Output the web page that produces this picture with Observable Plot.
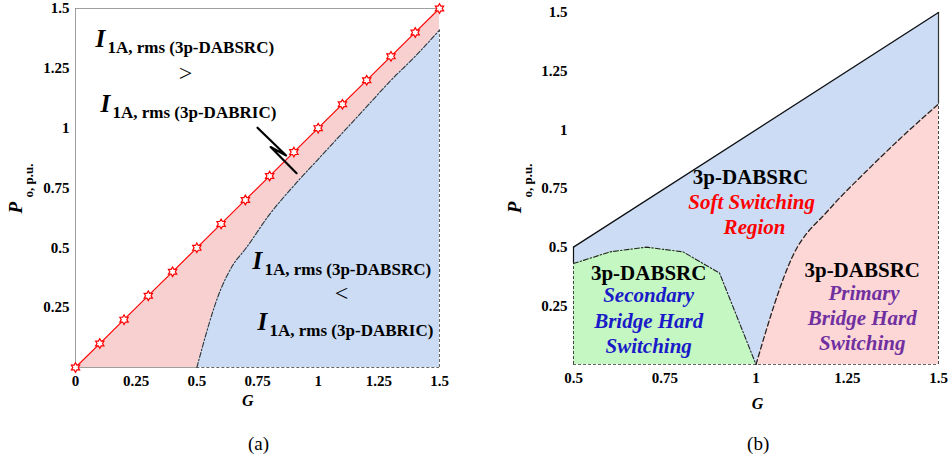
<!DOCTYPE html>
<html><head><meta charset="utf-8">
<script src="https://cdn.jsdelivr.net/npm/d3@7"></script>
<script src="https://cdn.jsdelivr.net/npm/@observablehq/plot@0.6"></script>
<style>
body{margin:0;background:#fff;}
#wrap{position:relative;width:950px;height:460px;overflow:hidden;background:#fff;}
#wrap svg{position:absolute;top:0;overflow:visible;}
</style></head><body><div id="wrap"></div>
<script>
// ---------- Panel (a) data ----------
const aLineG = [0,0.1,0.2,0.3,0.4,0.5,0.6,0.7,0.8,0.9,1.0,1.1,1.2,1.3,1.4,1.5];
const aLineP = [0,0.1,0.2,0.3,0.4,0.5,0.6,0.7,0.8,0.9,1.0,1.1,1.2,1.3,1.4,1.5];
const aBoundG = [0.5,0.6,0.65,0.7,0.8,0.9,1.0,1.1,1.2,1.3,1.4,1.5];
const aBoundP = [0,0.33,0.43,0.495,0.64,0.76,0.87,0.98,1.09,1.2,1.3,1.41];
const aTicksX = [0,0.25,0.5,0.75,1,1.25,1.5];
const ticksY = [0.25,0.5,0.75,1,1.25,1.5];
const aDomainX = [0,1.5];
const domainY = [0,1.5];
// annotations (a)
const aILabels = [
  {g:0.082, p:1.338, sub:"1A, rms (3p-DABSRC)"},
  {g:0.103, p:1.066, sub:"1A, rms (3p-DABRIC)"},
  {g:0.729, p:0.413, sub:"1A, rms (3p-DABSRC)"},
  {g:0.750, p:0.158, sub:"1A, rms (3p-DABRIC)"}
];
const aRelations = [{g:0.453, p:1.229, t:">"}, {g:1.096, p:0.308, t:"<"}];
const aArrowG = [0.75, 0.868, 0.804, 0.911];
const aArrowP = [1.002, 0.886, 0.921, 0.812];

// ---------- Panel (b) data ----------
const bTopG = [0.5,1.5];
const bTopP = [0.5,1.5];
const bSecG = [0.5,0.6,0.7,0.8,0.9,1.0];
const bSecP = [0.43,0.48,0.5,0.48,0.39,0];
const bPriG = [1.0,1.1,1.2,1.3,1.4,1.5];
const bPriP = [0,0.46,0.66,0.82,0.97,1.11];
const bTicksX = [0.5,0.75,1,1.25,1.5];
const bDomainX = [0.5,1.5];
// annotations (b)
const bHeads = [
  {g:0.985, p:0.771, t:"3p-DABSRC"},
  {g:0.706, p:0.359, t:"3p-DABSRC"},
  {g:1.291, p:0.371, t:"3p-DABSRC"}
];
const bSoft = [{g:0.988, p:0.662, t:"Soft Switching"}, {g:0.996, p:0.556, t:"Region"}];
const bSec = [{g:0.706, p:0.265, t:"Secondary"}, {g:0.706, p:0.155, t:"Bridge Hard"}, {g:0.706, p:0.048, t:"Switching"}];
const bPri = [{g:1.296, p:0.274, t:"Primary"}, {g:1.291, p:0.168, t:"Bridge Hard"}, {g:1.291, p:0.061, t:"Switching"}];

// ---------- helpers ----------
const zip = (G, P) => G.map((g, i) => ({g, p: P[i]}));
const font = "Liberation Serif, serif";
const fmt = d => String(d);
const blue = "#cbdcf4", pinkA = "#f8d0d0", pinkB = "#fdd6d6", green = "#c4f7c2";
const hexagram = {
  draw(ctx, size) {
    const R = Math.sqrt(size / Math.PI), r = R / Math.sqrt(3);
    for (let k = 0; k < 12; k++) {
      const a = Math.PI / 6 * k - Math.PI / 2, rr = k % 2 ? r : R;
      const x = rr * Math.cos(a), y = rr * Math.sin(a);
      k ? ctx.lineTo(x, y) : ctx.moveTo(x, y);
    }
    ctx.closePath();
  }
};
function yLabel(pP, pSub, dxP, dxSub) {
  return [
    Plot.text([{p: pP}], {y: "p", frameAnchor: "left", text: () => "P", rotate: -90, textAnchor: "start", lineAnchor: "bottom", dx: dxP, fontFamily: font, fontSize: 19, fontStyle: "italic", fontWeight: "bold"}),
    Plot.text([{p: pSub}], {y: "p", frameAnchor: "left", text: () => "o, p.u.", rotate: -90, textAnchor: "start", lineAnchor: "bottom", dx: dxSub, fontFamily: font, fontSize: 13, fontWeight: "bold"})
  ];
}

const redA = zip(aLineG, aLineP);
const boundA = zip(aBoundG, aBoundP);

const plotA = Plot.plot({
  width: 475, height: 460,
  marginLeft: 75, marginRight: 36, marginTop: 8, marginBottom: 93,
  style: {fontFamily: font, fontSize: "15px", fontWeight: "bold", color: "#000", background: "transparent", overflow: "visible"},
  x: {domain: aDomainX, ticks: aTicksX, tickFormat: fmt, tickSize: 0, tickPadding: 8, label: null},
  y: {domain: domainY, ticks: ticksY, tickFormat: fmt, tickSize: 0, tickPadding: 6, label: null},
  marks: [
    Plot.areaY(redA, {x: "g", y: "p", fill: pinkA}),
    Plot.areaY(boundA, {x: "g", y: "p", fill: blue, curve: "monotone-x"}),
    Plot.ruleY([domainY[1]], {x1: aDomainX[0], x2: aDomainX[1], stroke: "#888", strokeWidth: 0.8}),
    Plot.ruleX([aDomainX[0]], {y1: domainY[0], y2: domainY[1], stroke: "#888", strokeWidth: 0.8}),
    Plot.ruleY([0], {x1: aDomainX[0], x2: aBoundG[0], stroke: "#888", strokeWidth: 0.8}),
    Plot.ruleY([0], {x1: aBoundG[0], x2: aDomainX[1], stroke: "#666", strokeWidth: 1, strokeDasharray: "3,2"}),
    Plot.ruleX([aDomainX[1]], {y1: 0, y2: aBoundP[aBoundP.length - 1], stroke: "#666", strokeWidth: 1, strokeDasharray: "3,2"}),
    Plot.line(boundA, {x: "g", y: "p", stroke: "#333", strokeWidth: 1.1, strokeDasharray: "5,2,1.5,2", curve: "monotone-x"}),
    Plot.line(redA, {x: "g", y: "p", stroke: "#ff0000", strokeWidth: 1.1}),
    Plot.dot(redA, {x: "g", y: "p", symbol: hexagram, r: 4.8, stroke: "#ff0000", fill: "#fff", strokeWidth: 1.2}),
    Plot.line(zip(aArrowG, aArrowP), {x: "g", y: "p", stroke: "#000", strokeWidth: 2.2, curve: "linear"}),
    Plot.text(aILabels, {x: "g", y: "p", text: () => "I", fontFamily: font, fontSize: 25, fontStyle: "italic", fontWeight: "bold", textAnchor: "start", lineAnchor: "bottom"}),
    Plot.text(aILabels, {x: "g", y: "p", text: "sub", fontFamily: font, dx: 12, dy: 6, fontSize: 17, fontWeight: "bold", textAnchor: "start", lineAnchor: "bottom"}),
    Plot.text(aRelations, {x: "g", y: "p", text: "t", fontFamily: font, fontSize: 24, fontWeight: "normal", lineAnchor: "middle"}),
    Plot.text([{g: 0.71}], {x: "g", frameAnchor: "bottom", dy: 33, text: () => "G", fontFamily: font, fontSize: 16, fontStyle: "italic", fontWeight: "bold", lineAnchor: "middle"}),
    Plot.text([{g: 0.754}], {x: "g", frameAnchor: "bottom", dy: 76, text: () => "(a)", fontFamily: font, fontSize: 19, fontWeight: "normal", lineAnchor: "middle"}),
    ...yLabel(0.643, 0.71, -54, -43)
  ]
});
plotA.style.left = "0px";

const plotB = Plot.plot({
  width: 475, height: 460,
  marginLeft: 98, marginRight: 12, marginTop: 12, marginBottom: 96,
  style: {fontFamily: font, fontSize: "15px", fontWeight: "bold", color: "#000", background: "transparent", overflow: "visible"},
  x: {domain: bDomainX, ticks: bTicksX, tickFormat: fmt, tickSize: 0, tickPadding: 8, label: null},
  y: {domain: domainY, ticks: ticksY, tickFormat: fmt, tickSize: 0, tickPadding: 6, label: null},
  marks: [
    Plot.areaY(zip(bTopG, bTopP), {x: "g", y: "p", fill: blue}),
    Plot.areaY(zip(bSecG, bSecP), {x: "g", y: "p", fill: green}),
    Plot.areaY(zip(bPriG, bPriP), {x: "g", y: "p", fill: pinkB, curve: "monotone-x"}),
    Plot.ruleY([0], {x1: bDomainX[0], x2: bDomainX[1], stroke: "#666", strokeWidth: 1, strokeDasharray: "3,2"}),
    Plot.ruleX([bDomainX[0]], {y1: 0, y2: bSecP[0], stroke: "#444", strokeWidth: 1, strokeDasharray: "3,2"}),
    Plot.ruleX([bDomainX[0]], {y1: bSecP[0], y2: bTopP[0], stroke: "#111", strokeWidth: 1.2}),
    Plot.ruleX([bDomainX[1]], {y1: 0, y2: bPriP[bPriP.length - 1], stroke: "#444", strokeWidth: 1, strokeDasharray: "3,2"}),
    Plot.ruleX([bDomainX[1]], {y1: bPriP[bPriP.length - 1], y2: bTopP[1], stroke: "#333", strokeWidth: 1.2}),
    Plot.line(zip(bTopG, bTopP), {x: "g", y: "p", stroke: "#111", strokeWidth: 1.3}),
    Plot.line(zip(bSecG, bSecP), {x: "g", y: "p", stroke: "#222", strokeWidth: 1.1, strokeDasharray: "5,2,1.5,2"}),
    Plot.line(zip(bPriG, bPriP), {x: "g", y: "p", stroke: "#222", strokeWidth: 1.3, strokeDasharray: "5,3", curve: "monotone-x"}),
    Plot.text(bHeads, {x: "g", y: "p", text: "t", fontFamily: font, fontSize: 21, fontWeight: "bold", fill: "#000", lineAnchor: "bottom"}),
    Plot.text(bSoft, {x: "g", y: "p", text: "t", fontFamily: font, fontSize: 21, fontWeight: "bold", fontStyle: "italic", fill: "#ff0000", lineAnchor: "bottom"}),
    Plot.text(bSec, {x: "g", y: "p", text: "t", fontFamily: font, fontSize: 21, fontWeight: "bold", fontStyle: "italic", fill: "#1a1ac8", lineAnchor: "bottom"}),
    Plot.text(bPri, {x: "g", y: "p", text: "t", fontFamily: font, fontSize: 21, fontWeight: "bold", fontStyle: "italic", fill: "#7030a0", lineAnchor: "bottom"}),
    Plot.text([{g: 1.004}], {x: "g", frameAnchor: "bottom", dy: 39, text: () => "G", fontFamily: font, fontSize: 16, fontStyle: "italic", fontWeight: "bold", lineAnchor: "middle"}),
    Plot.text([{g: 1.006}], {x: "g", frameAnchor: "bottom", dy: 79, text: () => "(b)", fontFamily: font, fontSize: 19, fontWeight: "normal", lineAnchor: "middle"}),
    ...yLabel(0.644, 0.712, -53, -42)
  ]
});
plotB.style.left = "475px";

const wrap = document.getElementById("wrap");
wrap.appendChild(plotA);
wrap.appendChild(plotB);
</script>
</body></html>
